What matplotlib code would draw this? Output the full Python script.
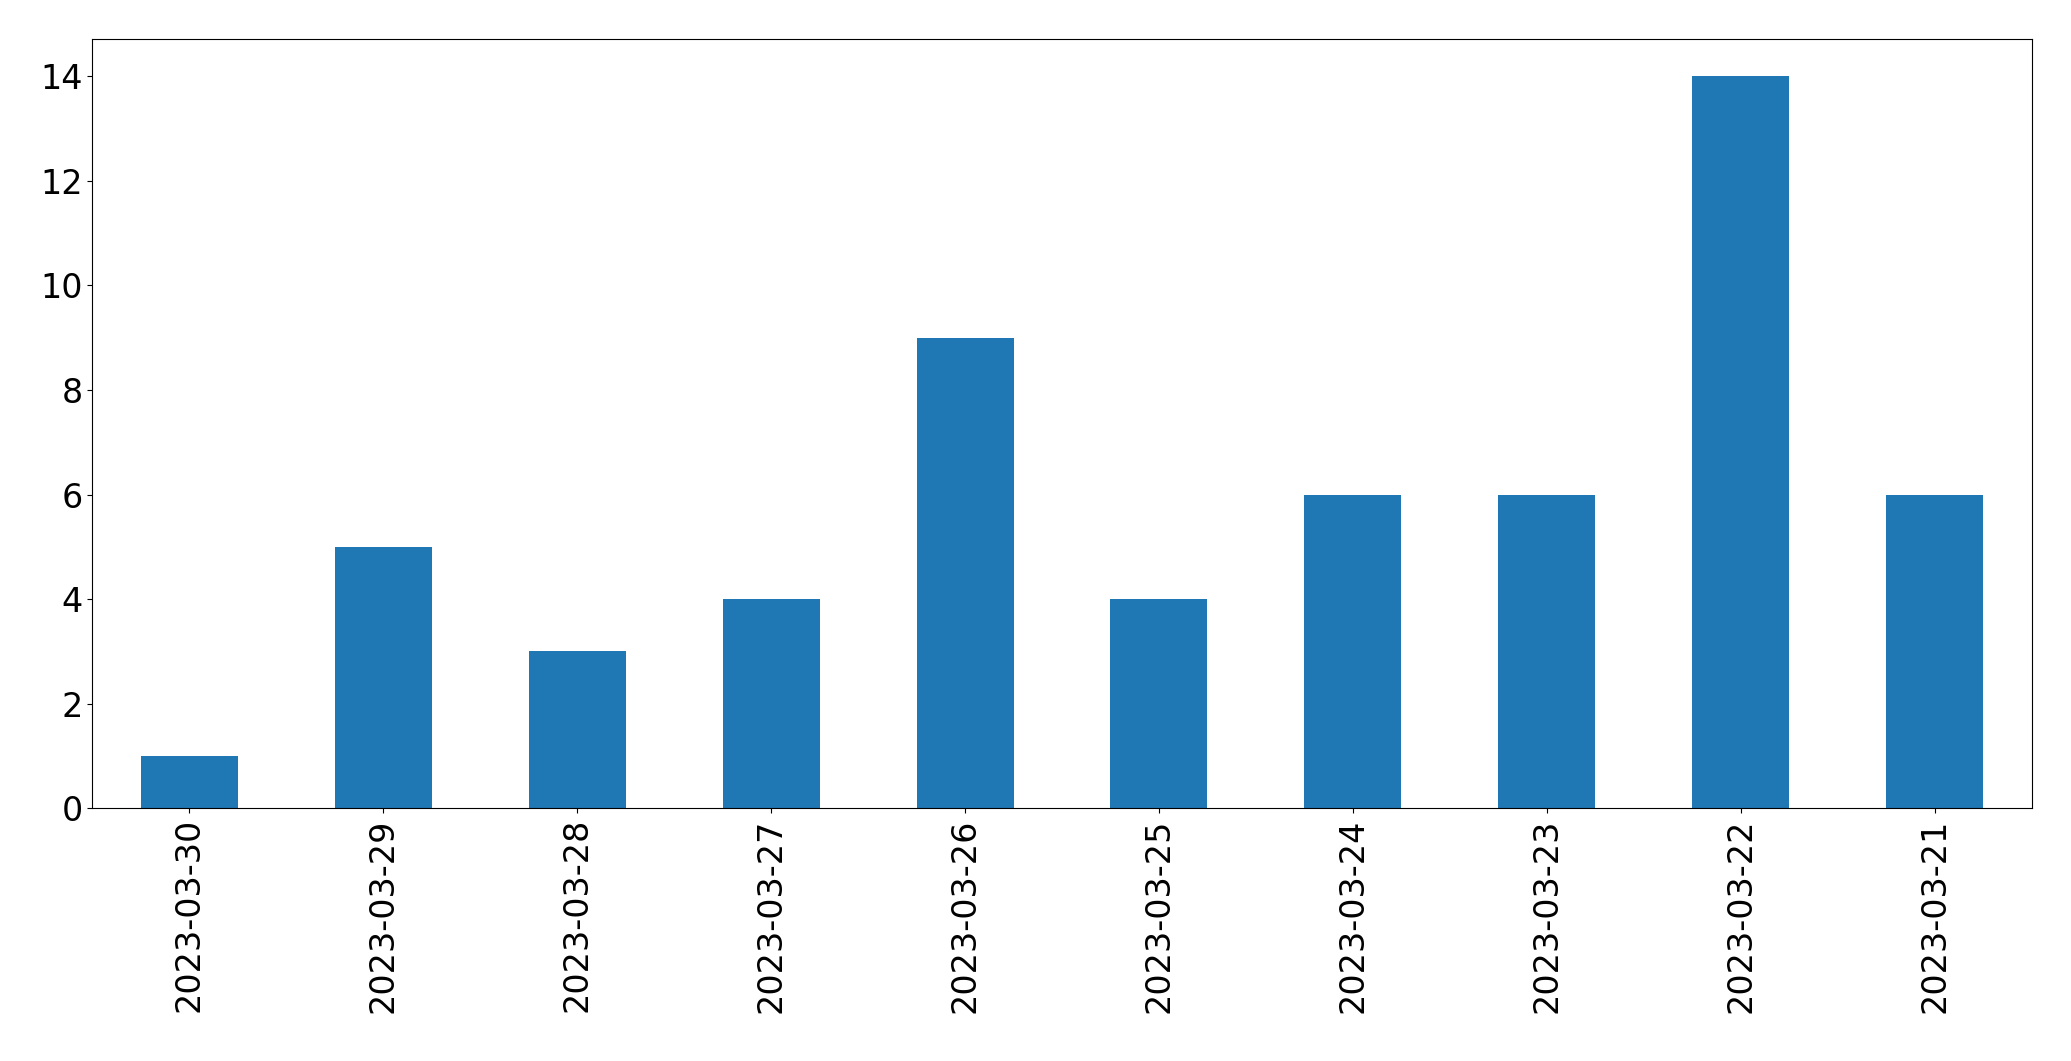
import matplotlib
matplotlib.use("Agg")
import matplotlib.pyplot as plt

dates = ["2023-03-30","2023-03-29","2023-03-28","2023-03-27","2023-03-26",
         "2023-03-25","2023-03-24","2023-03-23","2023-03-22","2023-03-21"]
counts = [1,5,3,4,9,4,6,6,14,6]

fig = plt.figure(figsize=(20.71,10.61), dpi=100)
ax = fig.add_axes([0.0446,0.238,0.9364,0.725])
x = list(range(len(dates)))
ax.bar(x, counts, width=0.5, color="#1f77b4")
ax.set_xticks(x)
ax.set_xticklabels(dates, rotation=90)
ax.set_xlim(-0.5, len(dates)-0.5)
ax.set_ylim(0, 14.7)
ax.tick_params(labelsize=24)
fig.savefig("out.png", dpi=100)
